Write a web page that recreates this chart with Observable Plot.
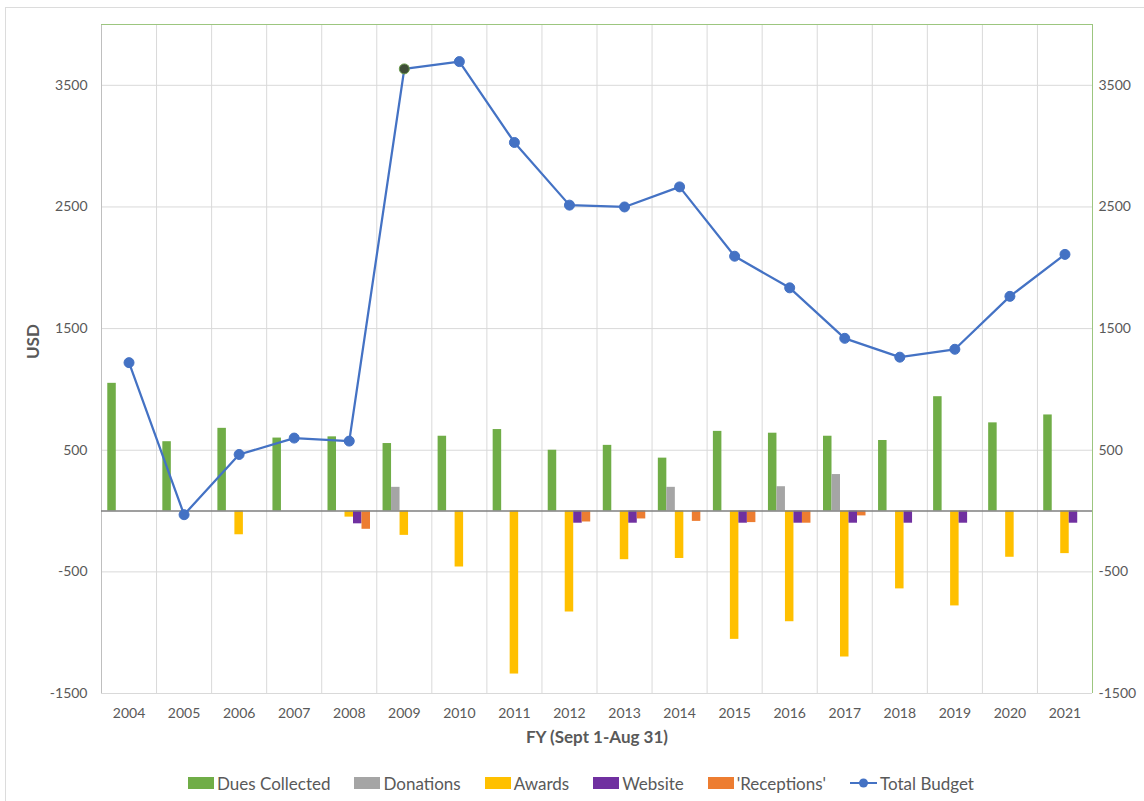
<!DOCTYPE html>
<html>
<head>
<meta charset="utf-8">
<script src="https://cdn.jsdelivr.net/npm/d3@7"></script>
<script src="https://cdn.jsdelivr.net/npm/@observablehq/plot@0.6"></script>
<style>
  body { margin: 0; background: white; font-family: Lato, "Open Sans", sans-serif; }
  #wrap { position: relative; width: 1144px; height: 801px; overflow: hidden; }
  #border { position: absolute; left: 5px; top: 7px; width: 1200px; height: 900px; border: 1px solid #dcdcdc; pointer-events: none; }
  #chart { position: absolute; left: 0; top: 0; }
  #legend { position: absolute; left: 188px; top: 771px; height: 24px; display: flex; align-items: center; gap: 24px; font-size: 17px; color: #595959; white-space: nowrap; }
  .item { display: flex; align-items: center; gap: 3px; }
  .sw { width: 26px; height: 12px; display: inline-block; }
</style>
</head>
<body>
<div id="wrap">
  <div id="border"></div>
  <div id="chart"></div>
  <div id="legend"></div>
</div>
<script>
const years = [2004,2005,2006,2007,2008,2009,2010,2011,2012,2013,2014,2015,2016,2017,2018,2019,2020,2021];
const dues = [1050,570,680,600,610,555,615,670,500,540,435,655,640,615,580,940,725,790];
const donations = [0,0,0,0,0,195,0,0,0,0,195,0,200,300,0,0,0,0];
const awards = [0,0,-195,0,-50,-200,-460,-1340,-830,-400,-390,-1055,-910,-1200,-640,-780,-380,-350];
const website = [0,0,0,0,-105,0,0,0,-100,-100,0,-100,-100,-100,-100,-100,0,-100];
const receptions = [0,0,0,0,-150,0,0,0,-90,-65,-85,-95,-100,-40,0,0,0,0];
const totalBudget = [1220,-30,465,600,575,3635,3695,3030,2515,2500,2665,2095,1835,1420,1265,1330,1765,2110];
const seriesNames = ["Dues Collected","Donations","Awards","Website","'Receptions'"];
const seriesColors = ["#70AD47","#A5A5A5","#FFC000","#7030A0","#ED7D31"];
const lineName = "Total Budget";
const lineColor = "#4472C4";
const yTicks = [-1500,-500,500,1500,2500,3500];

const seriesValues = [dues, donations, awards, website, receptions];
const groupWidth = 0.772;
const barW = groupWidth / seriesNames.length;
const bars = [];
seriesValues.forEach((vals, i) => {
  vals.forEach((v, j) => {
    if (v !== 0) {
      const c = years[j] - groupWidth / 2 + barW * (i + 0.5);
      bars.push({series: seriesNames[i], x1: c - barW / 2, x2: c + barW / 2, value: v});
    }
  });
});
const lineData = years.map((y, i) => ({year: y, value: totalBudget[i]}));
const bounds = years.map(y => y - 0.5).concat([years[years.length - 1] + 0.5]);
const xMin = bounds[0], xMax = bounds[bounds.length - 1];
const yMin = -1500, yMax = 4000;

const plot = Plot.plot({
  width: 1144,
  height: 760,
  marginLeft: 101,
  marginRight: 52,
  marginTop: 24,
  marginBottom: 67,
  style: {fontFamily: "Lato, 'Open Sans', sans-serif", fontSize: "14px", color: "#595959", background: "transparent", overflow: "visible"},
  x: {type: "linear", domain: [xMin, xMax]},
  y: {domain: [yMin, yMax]},
  color: {domain: seriesNames, range: seriesColors},
  marks: [
    Plot.ruleY(yTicks, {stroke: "#d9d9d9", strokeWidth: 1}),
    Plot.ruleX(bounds, {stroke: "#d9d9d9", strokeWidth: 1}),
    Plot.ruleX([xMin], {stroke: "#bfbfbf", strokeWidth: 1}),
    Plot.ruleX([xMax], {stroke: "#9cc67f", strokeWidth: 1}),
    Plot.ruleY([yMax], {stroke: "#9cc67f", strokeWidth: 1}),
    Plot.rect(bars, {x1: "x1", x2: "x2", y1: 0, y2: "value", fill: "series"}),
    Plot.ruleY([0], {stroke: "#7f7f7f", strokeWidth: 1.5}),
    Plot.line(lineData, {x: "year", y: "value", stroke: lineColor, strokeWidth: 2.25}),
    Plot.dot(lineData, {x: "year", y: "value", r: 5, fill: d => d.year === 2009 ? "#3f4d38" : lineColor, stroke: d => d.year === 2009 ? "#6a9a4c" : lineColor, strokeWidth: 1}),
    Plot.axisX({ticks: years, tickFormat: d => String(d), tickSize: 0, tickPadding: 15, label: null}),
    Plot.axisY({ticks: yTicks, tickFormat: d => String(d), tickSize: 0, tickPadding: 14, label: null}),
    Plot.axisY({anchor: "right", ticks: yTicks, tickFormat: d => String(d), tickSize: 0, tickPadding: 6, label: null}),
    Plot.text(["FY (Sept 1-Aug 31)"], {text: d => d, frameAnchor: "bottom", dy: 49, fontWeight: "bold", fontSize: 17, fill: "#595959"}),
    Plot.text(["USD"], {text: d => d, frameAnchor: "left", dx: -68, rotate: -90, fontWeight: "bold", fontSize: 17, fill: "#595959"})
  ]
});
document.getElementById("chart").appendChild(plot);

const legend = document.getElementById("legend");
seriesNames.forEach((n, i) => {
  const it = document.createElement("div");
  it.className = "item";
  it.innerHTML = `<span class="sw" style="background:${seriesColors[i]}"></span><span>${n}</span>`;
  legend.appendChild(it);
});
const li = document.createElement("div");
li.className = "item";
li.innerHTML = `<svg width="27" height="12"><line x1="0" y1="6" x2="27" y2="6" stroke="${lineColor}" stroke-width="2"/><circle cx="13.5" cy="6" r="4.5" fill="${lineColor}"/></svg><span>${lineName}</span>`;
legend.appendChild(li);
</script>
</body>
</html>
